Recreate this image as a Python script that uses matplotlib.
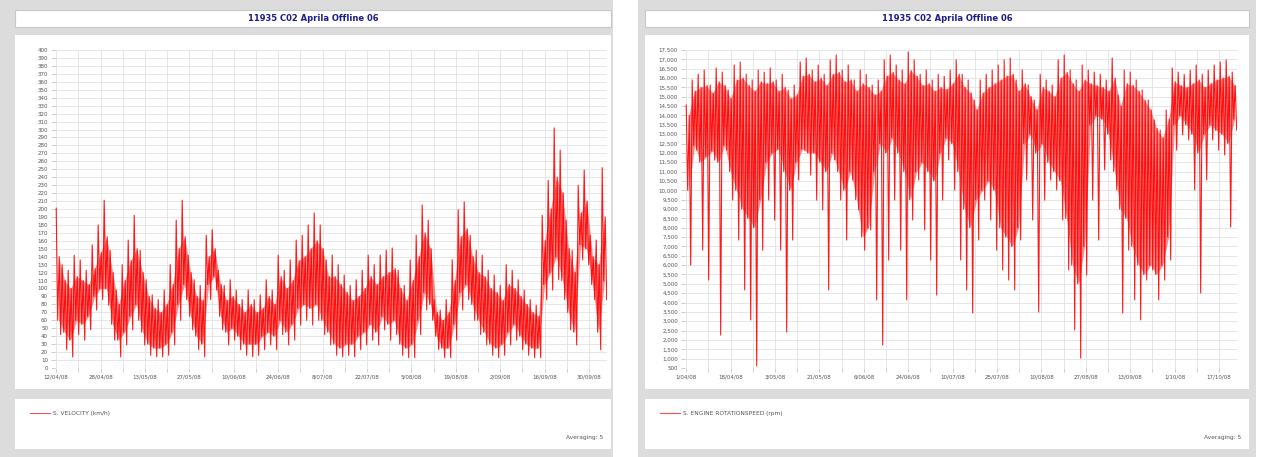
import numpy as np
import matplotlib.pyplot as plt
from matplotlib.patches import Rectangle
from matplotlib.ticker import FuncFormatter, FixedLocator

W, H = 1262, 457

title = "11935 C02 Aprila Offline 06"

speed_dates = ["12/04/08", "28/04/08", "13/05/08", "27/05/08", "10/06/08", "24/06/08", "8/07/08",
               "22/07/08", "5/08/08", "19/08/08", "2/09/08", "16/09/08", "30/09/08"]
rpm_dates = ["1/04/08", "18/04/08", "3/05/08", "21/05/08", "6/06/08", "24/06/08", "10/07/08",
             "25/07/08", "10/08/08", "27/08/08", "13/09/08", "1/10/08", "17/10/08"]

# velocity log (km/h): per-bin extremes and the dense core of the trace
speed_hi = [201, 130, 123, 142, 136, 123, 155, 180, 211, 148, 98, 130, 161, 192, 148, 111,
            92, 86, 98, 130, 186, 211, 142, 111, 104, 167, 174, 123, 104, 111, 98, 86,
            98, 86, 92, 111, 98, 142, 123, 136, 161, 167, 180, 195, 180, 136, 142, 130,
            117, 104, 111, 123, 142, 130, 142, 148, 151, 123, 104, 136, 167, 205, 186, 86,
            73, 86, 136, 199, 209, 167, 148, 142, 123, 117, 104, 130, 123, 111, 98, 86,
            79, 192, 236, 302, 274, 186, 148, 230, 249, 167, 161, 252]
speed_lo = [42, 23, 14, 42, 35, 48, 73, 86, 79, 35, 14, 29, 48, 60, 29, 16,
            14, 14, 16, 29, 60, 86, 48, 23, 14, 86, 98, 48, 29, 35, 23, 16,
            14, 16, 23, 29, 23, 42, 29, 35, 54, 60, 54, 60, 42, 29, 16, 14,
            16, 14, 23, 29, 35, 29, 48, 35, 42, 16, 13, 13, 42, 73, 60, 23,
            13, 13, 35, 73, 86, 60, 42, 29, 16, 13, 16, 29, 35, 23, 16, 13,
            13, 86, 98, 111, 86, 48, 29, 136, 130, 86, 23, 86]
speed_core_hi = [140, 110, 100, 115, 110, 105, 125, 145, 165, 120, 80, 110, 135, 150, 120, 90,
                 75, 70, 80, 105, 150, 165, 120, 90, 85, 140, 150, 105, 85, 90, 80, 70,
                 80, 70, 75, 90, 80, 115, 100, 110, 135, 140, 150, 160, 150, 115, 115, 105,
                 95, 85, 90, 100, 115, 105, 115, 120, 125, 100, 85, 110, 140, 170, 150, 70,
                 60, 70, 110, 165, 175, 140, 120, 115, 100, 95, 85, 105, 100, 90, 80, 70,
                 65, 160, 200, 240, 220, 150, 120, 195, 210, 140, 130, 190]
speed_core_lo = [60, 45, 35, 60, 55, 65, 90, 100, 100, 55, 35, 45, 65, 80, 45, 30,
                 25, 25, 30, 45, 80, 105, 65, 40, 30, 105, 115, 65, 45, 50, 40, 30,
                 30, 30, 40, 45, 40, 60, 45, 55, 75, 80, 75, 80, 60, 45, 30, 25,
                 30, 30, 40, 45, 55, 45, 65, 55, 60, 30, 25, 30, 60, 95, 80, 40,
                 25, 25, 55, 95, 105, 80, 60, 45, 30, 25, 30, 45, 55, 40, 30, 25,
                 25, 105, 120, 140, 110, 70, 45, 155, 150, 105, 45, 110]

# engine speed log (rpm): per-bin extremes and the dense core of the trace
rpm_hi = [14560, 15900, 16200, 16430, 15630, 16540, 16320, 15360, 16700, 16860, 16200, 15900,
          16430, 16320, 16540, 15900, 16200, 15360, 15630, 16860, 17070, 16430, 16700, 16200,
          16970, 17230, 16430, 16700, 15900, 16430, 16200, 15630, 15900, 16970, 17230, 16700,
          16430, 17390, 16970, 16200, 16430, 15900, 16200, 16090, 16430, 16970, 16200, 15900,
          14830, 15900, 16200, 16430, 16700, 16970, 17070, 15900, 16430, 15630, 14830, 16200,
          15900, 15630, 16970, 17230, 16430, 15900, 16700, 16430, 16320, 16200, 15900, 17070,
          15090, 16430, 16320, 15900, 15360, 14830, 13760, 13220, 14290, 16540, 16320, 16200,
          16430, 16700, 16200, 16430, 16700, 16860, 16970, 16320]
rpm_lo = [6000, 12150, 6800, 5200, 11620, 2260, 12150, 9480, 7340, 4670, 3070, 610,
          6800, 9480, 8410, 6800, 2420, 7340, 10550, 12150, 10820, 9480, 8950, 4670,
          11620, 9480, 7340, 10550, 8950, 6800, 7880, 4140, 1730, 6270, 9480, 6800,
          4140, 8410, 10550, 7880, 6270, 4400, 9480, 11620, 10020, 6270, 4670, 3440,
          7340, 9480, 8410, 6800, 5740, 5200, 4670, 7340, 10550, 8410, 3490, 9480,
          10550, 10020, 8410, 5740, 2530, 1030, 5470, 9480, 7340, 11090, 11620, 10020,
          3440, 6800, 4140, 3070, 5200, 5740, 4140, 5200, 6270, 12150, 12960, 12690,
          10020, 4510, 10550, 12690, 12150, 11890, 8040, 13220]
rpm_core_hi = [14000, 15300, 15500, 15600, 15200, 15800, 15600, 14900, 15900, 16000, 15600, 15300,
               15800, 15700, 15800, 15300, 15500, 14900, 15100, 16100, 16200, 15800, 16000, 15600,
               16200, 16300, 15800, 15900, 15300, 15700, 15500, 15100, 15300, 16100, 16300, 15900,
               15700, 16400, 16100, 15600, 15700, 15300, 15500, 15400, 15700, 16200, 15500, 15200,
               14300, 15200, 15500, 15700, 15900, 16100, 16200, 15300, 15700, 15000, 14300, 15500,
               15300, 15000, 16000, 16300, 15700, 15300, 15900, 15700, 15600, 15500, 15300, 16000,
               14500, 15700, 15600, 15300, 14800, 14300, 13300, 12800, 13800, 15800, 15600, 15500,
               15700, 15900, 15500, 15700, 15900, 16000, 16100, 15600]
rpm_core_lo = [10000, 12400, 11500, 11800, 12100, 11500, 12400, 11000, 10000, 9000, 8500, 8000,
               9500, 11500, 12000, 12200, 11000, 10000, 11500, 12200, 12000, 12000, 11500, 11000,
               12000, 11000, 10000, 11000, 9500, 7500, 8000, 11000, 12500, 12000, 12800, 12000,
               11000, 9500, 11000, 11500, 11000, 10500, 12000, 12800, 12500, 11000, 9000, 8000,
               9500, 10000, 10500, 10000, 8000, 7500, 7000, 8000, 12500, 13000, 12000, 12500,
               11500, 11000, 10500, 8500, 6000, 5000, 7000, 13500, 14000, 13800, 13000, 11000,
               9000, 8500, 7000, 6000, 5500, 6000, 5500, 6000, 7500, 13500, 14000, 13500,
               13000, 12000, 13000, 13500, 13200, 13000, 12500, 13800]

speed_ticks = list(range(0, 401, 10))
rpm_ticks = list(range(500, 17501, 500))

speed_legend = "S. VELOCITY (km/h)"
rpm_legend = "S. ENGINE ROTATIONSPEED (rpm)"


def frac(x0, y0, x1, y1):
    return [x0 / W, 1 - y1 / H, (x1 - x0) / W, (y1 - y0) / H]


def box(fig, x0, y0, x1, y1, color, edge="none"):
    l, b, w, h = frac(x0, y0, x1, y1)
    fig.patches.append(Rectangle((l, b), w, h, transform=fig.transFigure,
                                 facecolor=color, edgecolor=edge, lw=0.8, zorder=-5))


def trace(hi, lo, core_hi, core_lo):
    # walk each bin through max, core low, core high and min, like the raw samples swing
    y = np.column_stack([hi, core_lo, core_hi, lo]).ravel()
    x = np.arange(len(y)) / 4.0
    return x, y


def panel(fig, frame, inner, plot, hi, lo, core_hi, core_lo, yticks, dates, legend, fmt):
    box(fig, frame[0], 0, frame[1], H, "#dcdcdc")
    box(fig, inner[0], 10, inner[1], 27, "white", "#c8c8c8")
    box(fig, inner[0], 35, inner[1], 389, "white")
    box(fig, inner[0], 399, inner[1], 449, "white")
    fig.text((inner[0] + inner[1]) / 2 / W, 1 - 18.5 / H, title, ha="center", va="center",
             fontsize=6, fontweight="bold", color="#1c1c8a")

    ax = fig.add_axes(frac(plot[0], 50, plot[1], 368))
    ax.set_facecolor("none")
    ax.set_zorder(2)
    n = len(hi)
    ax.fill_between(np.arange(n) + 0.4, core_lo, core_hi, color="#ff0000", alpha=0.45, lw=0)
    x, y = trace(hi, lo, core_hi, core_lo)
    ax.plot(x, y, color="#ff0000", lw=0.8, alpha=0.9)
    ax.set_xlim(-0.2, n - 0.2)
    ax.set_ylim(yticks[0], yticks[-1])
    ax.yaxis.set_major_locator(FixedLocator(yticks))
    ax.yaxis.set_major_formatter(FuncFormatter(fmt))
    major = np.linspace(0.0, 12 * 7.4, 13)
    ax.set_xticks(major)
    ax.set_xticks(major[:-1] + 3.7, minor=True)
    ax.set_xticklabels(dates)
    ax.grid(True, which="both", color="#e2e2e2", lw=0.6)
    ax.set_axisbelow(True)
    ax.tick_params(which="both", labelsize=4, colors="#bbbbbb", labelcolor="#555555",
                   length=3, width=0.5, pad=2)
    for s in ax.spines.values():
        s.set_visible(False)

    fig.add_artist(plt.Line2D([(inner[0] + 15) / W, (inner[0] + 35) / W], [1 - 413 / H] * 2,
                              color="#ff5050", lw=0.8, transform=fig.transFigure))
    fig.text((inner[0] + 38) / W, 1 - 413 / H, legend, fontsize=4.2, color="#555555",
             va="center")
    fig.text((inner[1] - 8) / W, 1 - 437 / H, "Averaging: 5", fontsize=4.2, color="#555555",
             va="center", ha="right")
    return ax


fig = plt.figure(figsize=(W / 100, H / 100), dpi=100)
panel(fig, (0, 613), (15, 611), (55, 607), speed_hi, speed_lo, speed_core_hi, speed_core_lo,
      speed_ticks, speed_dates, speed_legend, lambda v, p: f"{v:.0f}")
panel(fig, (638, 1256), (645, 1249), (685, 1237), rpm_hi, rpm_lo, rpm_core_hi, rpm_core_lo,
      rpm_ticks, rpm_dates, rpm_legend, lambda v, p: f"{v:,.0f}")
fig.savefig("out.png", dpi=100)
